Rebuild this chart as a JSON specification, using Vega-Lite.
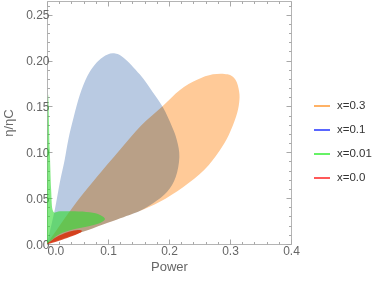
{
  "$schema": "https://vega.github.io/schema/vega-lite/v6.json",
  "width": 244,
  "height": 243,
  "autosize": "none",
  "padding": {"left": 47, "top": 1, "right": 83, "bottom": 40},
  "background": "white",
  "config": {
    "view": {"stroke": "#b4b4b4", "strokeWidth": 1},
    "font": "Liberation Sans",
    "axis": {"domain": false, "grid": false, "tickColor": "#a8a8a8", "labelColor": "#666666", "titleColor": "#666666", "labelFont": "Liberation Sans", "titleFont": "Liberation Sans", "titleFontWeight": "normal", "labelFontSize": 12, "titleFontSize": 13}
  },
  "datasets": {
    "b": [
      {"s": "x=0.1", "i": 0, "p": 0.0, "e": 0.0},
      {"s": "x=0.1", "i": 1, "p": 0.0127, "e": 0.037},
      {"s": "x=0.1", "i": 2, "p": 0.021, "e": 0.067},
      {"s": "x=0.1", "i": 3, "p": 0.029, "e": 0.092},
      {"s": "x=0.1", "i": 4, "p": 0.035, "e": 0.114},
      {"s": "x=0.1", "i": 5, "p": 0.044, "e": 0.139},
      {"s": "x=0.1", "i": 6, "p": 0.054, "e": 0.163},
      {"s": "x=0.1", "i": 7, "p": 0.066, "e": 0.183},
      {"s": "x=0.1", "i": 8, "p": 0.079, "e": 0.196},
      {"s": "x=0.1", "i": 9, "p": 0.092, "e": 0.204},
      {"s": "x=0.1", "i": 10, "p": 0.108, "e": 0.208},
      {"s": "x=0.1", "i": 11, "p": 0.125, "e": 0.2035},
      {"s": "x=0.1", "i": 12, "p": 0.152, "e": 0.185},
      {"s": "x=0.1", "i": 13, "p": 0.174, "e": 0.165},
      {"s": "x=0.1", "i": 14, "p": 0.19, "e": 0.149},
      {"s": "x=0.1", "i": 15, "p": 0.205, "e": 0.128},
      {"s": "x=0.1", "i": 16, "p": 0.213, "e": 0.113},
      {"s": "x=0.1", "i": 17, "p": 0.217, "e": 0.095},
      {"s": "x=0.1", "i": 18, "p": 0.211, "e": 0.073},
      {"s": "x=0.1", "i": 19, "p": 0.197, "e": 0.057},
      {"s": "x=0.1", "i": 20, "p": 0.175, "e": 0.045},
      {"s": "x=0.1", "i": 21, "p": 0.152, "e": 0.036},
      {"s": "x=0.1", "i": 22, "p": 0.12, "e": 0.028},
      {"s": "x=0.1", "i": 23, "p": 0.06, "e": 0.0135},
      {"s": "x=0.1", "i": 24, "p": 0.0, "e": 0.0}
    ],
    "o": [
      {"s": "x=0.3", "i": 0, "p": 0.0, "e": 0.0},
      {"s": "x=0.3", "i": 1, "p": 0.041, "e": 0.039},
      {"s": "x=0.3", "i": 2, "p": 0.078, "e": 0.07},
      {"s": "x=0.3", "i": 3, "p": 0.12, "e": 0.103},
      {"s": "x=0.3", "i": 4, "p": 0.154, "e": 0.129},
      {"s": "x=0.3", "i": 5, "p": 0.189, "e": 0.15},
      {"s": "x=0.3", "i": 6, "p": 0.218, "e": 0.168},
      {"s": "x=0.3", "i": 7, "p": 0.246, "e": 0.179},
      {"s": "x=0.3", "i": 8, "p": 0.272, "e": 0.185},
      {"s": "x=0.3", "i": 9, "p": 0.296, "e": 0.185},
      {"s": "x=0.3", "i": 10, "p": 0.309, "e": 0.179},
      {"s": "x=0.3", "i": 11, "p": 0.315, "e": 0.166},
      {"s": "x=0.3", "i": 12, "p": 0.315, "e": 0.154},
      {"s": "x=0.3", "i": 13, "p": 0.31, "e": 0.139},
      {"s": "x=0.3", "i": 14, "p": 0.298, "e": 0.119},
      {"s": "x=0.3", "i": 15, "p": 0.282, "e": 0.101},
      {"s": "x=0.3", "i": 16, "p": 0.258, "e": 0.081},
      {"s": "x=0.3", "i": 17, "p": 0.223, "e": 0.062},
      {"s": "x=0.3", "i": 18, "p": 0.185, "e": 0.046},
      {"s": "x=0.3", "i": 19, "p": 0.152, "e": 0.036},
      {"s": "x=0.3", "i": 20, "p": 0.12, "e": 0.028},
      {"s": "x=0.3", "i": 21, "p": 0.06, "e": 0.0135},
      {"s": "x=0.3", "i": 22, "p": 0.0, "e": 0.0}
    ],
    "g": [
      {"s": "x=0.01", "i": 0, "p": 0.0, "e": 0.0},
      {"s": "x=0.01", "i": 1, "p": 0.0015, "e": 0.16},
      {"s": "x=0.01", "i": 2, "p": 0.0045, "e": 0.103},
      {"s": "x=0.01", "i": 3, "p": 0.0068, "e": 0.059},
      {"s": "x=0.01", "i": 4, "p": 0.0098, "e": 0.036},
      {"s": "x=0.01", "i": 5, "p": 0.021, "e": 0.0356},
      {"s": "x=0.01", "i": 6, "p": 0.0456, "e": 0.0356},
      {"s": "x=0.01", "i": 7, "p": 0.07, "e": 0.0345},
      {"s": "x=0.01", "i": 8, "p": 0.087, "e": 0.0317},
      {"s": "x=0.01", "i": 9, "p": 0.095, "e": 0.0274},
      {"s": "x=0.01", "i": 10, "p": 0.087, "e": 0.023},
      {"s": "x=0.01", "i": 11, "p": 0.07, "e": 0.0197},
      {"s": "x=0.01", "i": 12, "p": 0.0456, "e": 0.0164},
      {"s": "x=0.01", "i": 13, "p": 0.021, "e": 0.011},
      {"s": "x=0.01", "i": 14, "p": 0.0077, "e": 0.0044},
      {"s": "x=0.01", "i": 15, "p": 0.0, "e": 0.0}
    ],
    "r": [
      {"s": "x=0.0", "i": 0, "p": 0.0, "e": 0.0},
      {"s": "x=0.0", "i": 1, "p": 0.0127, "e": 0.0066},
      {"s": "x=0.0", "i": 2, "p": 0.026, "e": 0.011},
      {"s": "x=0.0", "i": 3, "p": 0.041, "e": 0.0142},
      {"s": "x=0.0", "i": 4, "p": 0.054, "e": 0.0153},
      {"s": "x=0.0", "i": 5, "p": 0.057, "e": 0.0137},
      {"s": "x=0.0", "i": 6, "p": 0.05, "e": 0.011},
      {"s": "x=0.0", "i": 7, "p": 0.037, "e": 0.0077},
      {"s": "x=0.0", "i": 8, "p": 0.021, "e": 0.0038},
      {"s": "x=0.0", "i": 9, "p": 0.0077, "e": 0.0011},
      {"s": "x=0.0", "i": 10, "p": 0.0, "e": 0.0}
    ]
  },
  "resolve": {"axis": {"x": "independent", "y": "independent"}},
  "layer": [
    {
      "data": {"name": "b"},
      "mark": {"type": "line", "interpolate": "cardinal", "fill": "#b9cae2", "strokeWidth": 0, "blend": "multiply"},
      "encoding": {
        "x": {"field": "p", "type": "quantitative", "scale": {"domain": [0, 0.4], "nice": false, "zero": false},
              "axis": {"orient": "bottom", "title": "Power", "values": [0, 0.1, 0.2, 0.3, 0.4], "format": ".1f", "tickSize": -5, "labelPadding": 6, "titlePadding": 4, "labelFlush": false,
                       "labelAlign": {"condition": {"test": "datum.value == 0", "value": "left"}, "value": "center"}}},
        "y": {"field": "e", "type": "quantitative", "scale": {"domain": [0, 0.265], "nice": false, "zero": false},
              "axis": {"orient": "left", "title": "η/ηC", "values": [0, 0.05, 0.1, 0.15, 0.2, 0.25], "format": ".2f", "tickSize": -5, "labelPadding": 3, "titlePadding": 10, "labelFlush": false}},
        "order": {"field": "i", "type": "quantitative"},
        "stroke": {"field": "s", "type": "nominal",
                   "scale": {"domain": ["x=0.3", "x=0.1", "x=0.01", "x=0.0"], "range": ["#ff9933", "#2233ff", "#33ee33", "#ff2222"]},
                   "legend": {"title": null, "orient": "none", "legendX": 266, "legendY": 96, "symbolType": "stroke", "symbolSize": 256, "symbolStrokeWidth": 1.5, "symbolOpacity": 1, "labelFontSize": 11.5, "labelColor": "#333333", "labelFont": "Liberation Sans", "labelOffset": 6, "rowPadding": 9}}
      }
    },
    {
      "data": {"name": "o"},
      "mark": {"type": "line", "interpolate": "cardinal", "fill": "#ffca98", "strokeWidth": 0, "blend": "multiply"},
      "encoding": {
        "x": {"field": "p", "type": "quantitative",
              "axis": {"orient": "bottom", "title": null, "labels": false, "values": [0.02, 0.04, 0.06, 0.08, 0.12, 0.14, 0.16, 0.18, 0.22, 0.24, 0.26, 0.28, 0.32, 0.34, 0.36, 0.38], "tickSize": -2.5}},
        "y": {"field": "e", "type": "quantitative",
              "axis": {"orient": "left", "title": null, "labels": false, "values": [0.01, 0.02, 0.03, 0.04, 0.06, 0.07, 0.08, 0.09, 0.11, 0.12, 0.13, 0.14, 0.16, 0.17, 0.18, 0.19, 0.21, 0.22, 0.23, 0.24, 0.26], "tickSize": -2.5}},
        "order": {"field": "i", "type": "quantitative"},
        "stroke": {"field": "s", "type": "nominal"}
      }
    },
    {
      "data": {"name": "g"},
      "mark": {"type": "line", "interpolate": "cardinal", "fill": "#2edb2e", "fillOpacity": 0.6, "strokeWidth": 0, "clip": true},
      "encoding": {
        "x": {"field": "p", "type": "quantitative",
              "axis": {"orient": "top", "title": null, "labels": false, "values": [0, 0.1, 0.2, 0.3, 0.4], "tickSize": -5}},
        "y": {"field": "e", "type": "quantitative",
              "axis": {"orient": "right", "title": null, "labels": false, "values": [0, 0.05, 0.1, 0.15, 0.2, 0.25], "tickSize": -5}},
        "order": {"field": "i", "type": "quantitative"},
        "stroke": {"field": "s", "type": "nominal"}
      }
    },
    {
      "data": {"name": "r"},
      "mark": {"type": "line", "interpolate": "cardinal", "fill": "#d8300c", "fillOpacity": 0.85, "strokeWidth": 0, "clip": true},
      "encoding": {
        "x": {"field": "p", "type": "quantitative",
              "axis": {"orient": "top", "title": null, "labels": false, "values": [0.02, 0.04, 0.06, 0.08, 0.12, 0.14, 0.16, 0.18, 0.22, 0.24, 0.26, 0.28, 0.32, 0.34, 0.36, 0.38], "tickSize": -2.5}},
        "y": {"field": "e", "type": "quantitative",
              "axis": {"orient": "right", "title": null, "labels": false, "values": [0.01, 0.02, 0.03, 0.04, 0.06, 0.07, 0.08, 0.09, 0.11, 0.12, 0.13, 0.14, 0.16, 0.17, 0.18, 0.19, 0.21, 0.22, 0.23, 0.24, 0.26], "tickSize": -2.5}},
        "order": {"field": "i", "type": "quantitative"},
        "stroke": {"field": "s", "type": "nominal"}
      }
    }
  ]
}
